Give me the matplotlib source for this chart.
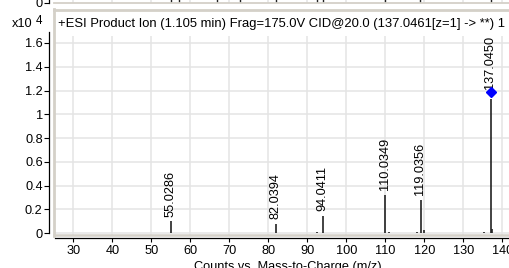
import matplotlib
matplotlib.use("Agg")
import matplotlib.pyplot as plt
from matplotlib.lines import Line2D

plt.rcParams['font.family'] = ['Liberation Sans', 'DejaVu Sans']

# ---- data ----
peak_mz = [45.4, 55.0286, 82.0394, 92.6, 94.0411, 103.8, 110.0349, 111.0, 118.0,
           119.0356, 120.0, 135.2, 137.0450, 137.4]
peak_int = [0.005, 0.10, 0.076, 0.015, 0.143, 0.004, 0.32, 0.008, 0.012,
            0.28, 0.025, 0.008, 1.13, 0.04]
labels_mz = [55.0286, 82.0394, 94.0411, 110.0349, 119.0356, 137.0450]
labels_int = [0.10, 0.076, 0.143, 0.32, 0.28, 1.17]
precursor_mz = [137.0461]
precursor_int = [1.19]
prev_peak_mz = [55.0, 57.2, 66.8, 72.7, 82.0, 92.5, 94.0, 110.0, 119.0, 137.0]
prev_peak_int = [0.3, 0.1, 0.1, 0.1, 0.2, 0.1, 0.3, 0.5, 0.4, 1.0]
xticks = [30, 40, 50, 60, 70, 80, 90, 100, 110, 120, 130, 140]
yticks = [0, 0.2, 0.4, 0.6, 0.8, 1, 1.2, 1.4, 1.6]
ytick_labels = ['0', '0.2', '0.4', '0.6', '0.8', '1', '1.2', '1.4', '1.6']
header = "+ESI Product Ion (1.105 min) Frag=175.0V CID@20.0 (137.0461[z=1] -> **) 1"
xlabel = "Counts vs. Mass-to-Charge (m/z)"

W, H = 509, 268
fig = plt.figure(figsize=(W / 100, H / 100), dpi=100)
fig.patch.set_facecolor('white')

def fx(px):
    return px / W

def fy(py):
    return (H - py) / H

def box(x0, y0, x1, y1):
    return [fx(x0), fy(y1), fx(x1) - fx(x0), fy(y0) - fy(y1)]

FS = 9.2
GRID = '#e4e4e4'
FRAME = '#d4d0c8'
XLIM = (24.92, 141.7)

# ---- main axes ----
ax = fig.add_axes(box(53.5, 36, 509, 235))
ax.set_xlim(*XLIM)
ax.set_ylim(-0.0143, 1.658)
ax.set_xticks(xticks)
ax.set_xticklabels([str(t) for t in xticks])
ax.set_yticks(yticks)
ax.set_yticklabels(ytick_labels)
ax.grid(True, color=GRID, linewidth=1.1)
ax.set_axisbelow(True)
for s in ['top', 'right']:
    ax.spines[s].set_visible(False)
ax.spines['left'].set_position(('outward', 3))
ax.spines['bottom'].set_position(('outward', 2.3))
ax.spines['left'].set_bounds(0, 1.69)
ax.spines['bottom'].set_bounds(25.3, XLIM[1])
for s in ['left', 'bottom']:
    ax.spines[s].set_linewidth(0.9)
    ax.spines[s].set_color('black')
ax.tick_params(axis='x', length=3.2, width=0.8, pad=1.5, labelsize=FS)
ax.tick_params(axis='y', length=3.8, width=0.8, pad=1.0, labelsize=FS)

ax.vlines(peak_mz, 0, peak_int, color='#222222', linewidth=1.2)
for m, h in zip(labels_mz, labels_int):
    t = ax.annotate(f"{m:.4f}", (m, h), xytext=(-0.6, 3.5), textcoords='offset points',
                    rotation=90, ha='center', va='bottom', fontsize=FS,
                    annotation_clip=False)
    t.set_clip_on(True)
    t.set_clip_box(ax.bbox)
ax.plot(precursor_mz, precursor_int, marker='D', color='#0000ff', markersize=4.6,
        linestyle='none', zorder=5)

# ---- previous panel remnant at top ----
axp = fig.add_axes(box(53.5, -40, 509, 2.6))
axp.set_xlim(*XLIM)
axp.set_ylim(0, 1)
axp.set_xticks(xticks)
axp.set_yticks([0])
axp.set_yticklabels(['0'])
axp.tick_params(axis='y', length=3.8, width=0.8, pad=1.0, labelsize=FS)
axp.tick_params(axis='x', length=0, labelbottom=False)
axp.grid(True, axis='x', color=GRID, linewidth=1.1)
for s in ['top', 'right', 'bottom']:
    axp.spines[s].set_visible(False)
axp.spines['left'].set_position(('outward', 3))
axp.spines['left'].set_linewidth(0.9)
axp.vlines(prev_peak_mz, 0, prev_peak_int, color='#222222', linewidth=1.0)

# ---- frame lines ----
fig.add_artist(Line2D([fx(53.5), fx(509)], [fy(3.2), fy(3.2)], color=FRAME, lw=1.3))
fig.add_artist(Line2D([fx(53.5), fx(509)], [fy(9.8), fy(9.8)], color=FRAME, lw=2.0))
fig.add_artist(Line2D([fx(53.5), fx(53.5)], [fy(9), fy(235.5)], color=FRAME, lw=2.0))
fig.add_artist(Line2D([fx(53.5), fx(509)], [fy(234.6), fy(234.6)], color=FRAME, lw=1.8))

# ---- header ----
fig.text(fx(58), fy(26.8), header, fontsize=9.4, ha='left', va='baseline')
fig.text(fx(12), fy(26.8), 'x10', fontsize=9.2, ha='left', va='baseline')
fig.text(fx(36), fy(23.5), '4', fontsize=8.4, ha='left', va='baseline')

# ---- x label ----
fig.text(fx(288), fy(270.3), xlabel, fontsize=FS, ha='center', va='baseline')

fig.savefig('out.png', dpi=100)
